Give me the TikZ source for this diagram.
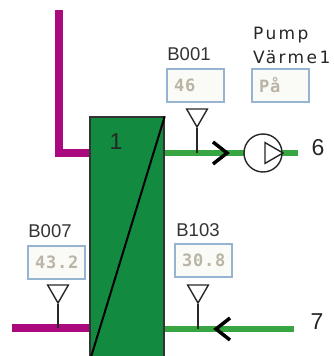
\documentclass[tikz,border=0pt]{standalone}
\usepackage{fontspec}
\setmainfont{Liberation Sans}
\newfontfamily\valuefont[LetterSpace=5]{DejaVu Sans Mono Bold}
\newfontfamily\pumpfont[LetterSpace=14]{DejaVu Sans}
\usetikzlibrary{shapes.geometric}
\definecolor{hxgreen}{RGB}{18,138,64}
\definecolor{pipegreen}{RGB}{55,165,65}
\definecolor{pipepink}{RGB}{170,10,125}
\definecolor{boxblue}{RGB}{150,180,210}
\definecolor{boxfill}{RGB}{250,250,247}
\definecolor{valuegrey}{RGB}{185,180,165}
\begin{document}
\begin{tikzpicture}[x=1pt, y=-1pt,
  pinkpipe/.style={draw=pipepink, line width=7.5pt},
  greenpipe/.style={draw=pipegreen, line width=6.5pt},
  chevron/.style={draw=black, line width=3.5pt},
  valuebox/.style={draw=boxblue, line width=1.5pt, fill=boxfill, text=valuegrey, font=\fontsize{17}{17}\valuefont, inner xsep=7pt, inner ysep=0pt, text width=43pt, align=left, minimum height=33pt},
  tag/.style={font=\fontsize{18.5}{18.5}\selectfont, text=black!80, inner sep=0pt},
  bignumber/.style={font=\fontsize{23}{23}\selectfont, text=black!85, inner sep=0pt},
  sensor/.style={draw=black!85, line width=1.4pt, regular polygon, regular polygon sides=3, shape border rotate=180, inner sep=0pt, minimum size=24pt},
  stem/.style={draw=black!85, line width=1.4pt}]
\clip (0,0) rectangle (334,356);
\useasboundingbox (0,0) rectangle (334,356);

\coordinate (hotin) at (59,10);
\coordinate (hotout) at (12,328);
\coordinate (end6) at (298,153);
\coordinate (tip6) at (227,153);
\coordinate (end7) at (294,329);
\coordinate (tip7) at (216,329);

\node[draw=black!80, line width=1.5pt, fill=hxgreen, minimum width=74pt, minimum height=245pt, inner sep=0pt] at (127,239.5) (hx) {};
\node[bignumber] at (116,142) (hxno) {1};

% pipes
\draw[pinkpipe] (hotin) |- (hx.west |- tip6);
\draw[pinkpipe] (hotout) -- (hx.west |- hotout);
\draw[greenpipe] (hx.east |- tip6) -- (end6);
\draw[greenpipe] (hx.east |- tip7) -- (end7);
\draw[black, line width=2pt] (hx.north east) -- (hx.south west);

% flow marks
\draw[chevron] (tip6) ++(-14,-11) -- (tip6) -- ++(-14,11);
\draw[chevron] (tip7) ++(14,-11) -- (tip7) -- ++(14,11);

% pump
\node[draw=black!85, line width=1.4pt, fill=white, circle, minimum size=38pt, inner sep=0pt] at (263,153) (pump) {};
\node[draw=black!85, line width=1.4pt, regular polygon, regular polygon sides=3, shape border rotate=-90, inner sep=0pt, minimum size=24pt] at (271,153) (pumptri) {};
\node[font=\fontsize{17}{24}\pumpfont, align=left, inner sep=0pt, anchor=west, text=black!85] at (253,45) (pumptag) {Pump\\Värme1};
\node[valuebox] at (280.5,85.5) (pumpval) {På};

% sensors
\node[tag] at (189,54) (b001tag) {B001};
\node[valuebox] at (195.5,85.5) (b001val) {46};
\node[sensor] at (197,115) (b001) {};
\draw[stem] (b001.corner 1) -- (b001 |- tip6);

\node[tag] at (50,231) (b007tag) {B007};
\node[valuebox] at (56.5,262.5) (b007val) {43.2};
\node[sensor] at (58,291) (b007) {};
\draw[stem] (b007.corner 1) -- (b007 |- hotout);

\node[tag] at (198,230) (b103tag) {B103};
\node[valuebox] at (203.5,260.5) (b103val) {30.8};
\node[sensor] at (198,291) (b103) {};
\draw[stem] (b103.corner 1) -- (b103 |- tip7);

\node[bignumber] at (318,148) (no6) {6};
\node[bignumber] at (317,322) (no7) {7};
\end{tikzpicture}
\end{document}
